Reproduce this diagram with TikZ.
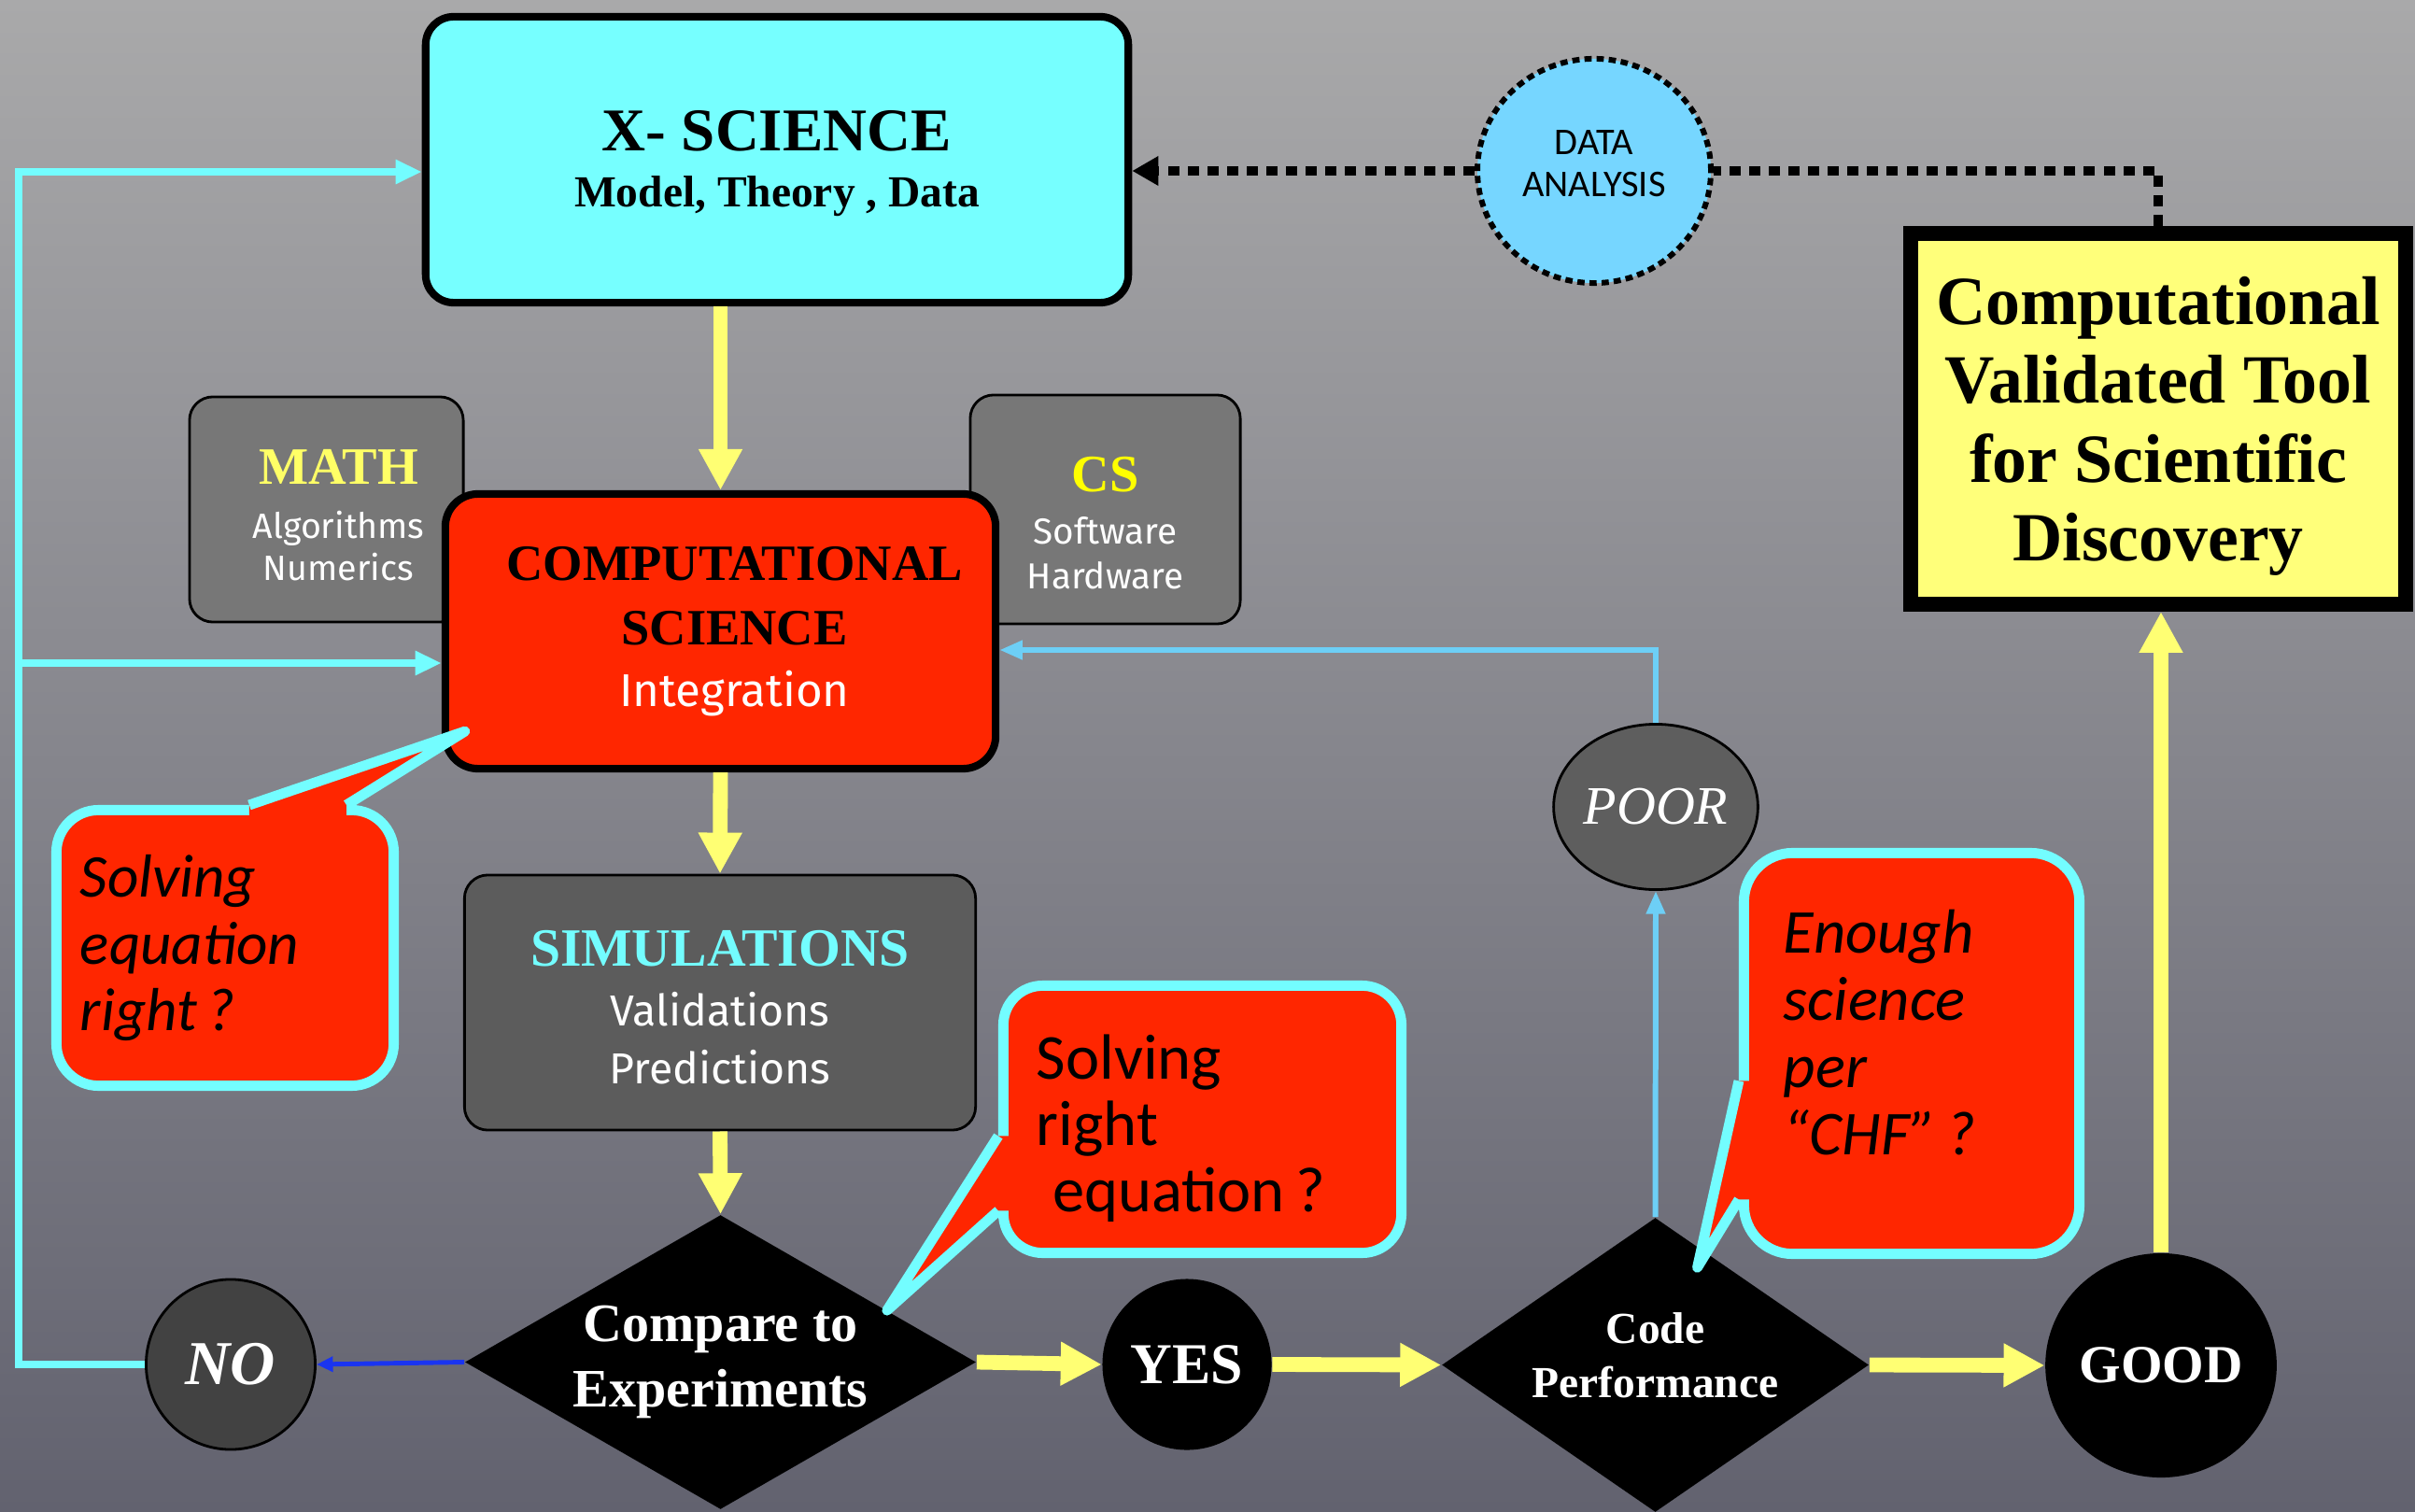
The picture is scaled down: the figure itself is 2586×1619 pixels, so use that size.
\documentclass[tikz,border=0pt]{standalone}
\usepackage{fontspec}
\setmainfont{Liberation Serif}
\newfontfamily\calloutfont{Carlito}
\newfontfamily\handfont{Fira Sans}
\usetikzlibrary{arrows.meta, positioning, shapes.geometric, calc}
\definecolor{bgTop}{HTML}{A9A9AA}
\definecolor{bgBot}{HTML}{62626F}
\definecolor{sciCyan}{HTML}{76FFFF}
\definecolor{compRed}{HTML}{FF2600}
\definecolor{boxGray}{HTML}{777777}
\definecolor{simGray}{HTML}{5C5C5C}
\definecolor{noGray}{HTML}{424242}
\definecolor{poorGray}{HTML}{5E5E5E}
\definecolor{arrowYellow}{HTML}{FFFF73}
\definecolor{mathYellow}{HTML}{FFFF66}
\definecolor{csYellow}{HTML}{FFFF00}
\definecolor{lineCyan}{HTML}{73FDFF}
\definecolor{lineBlue}{HTML}{6DCFF6}
\definecolor{daBlue}{HTML}{76D6FF}
\definecolor{noBlue}{HTML}{1A34F0}
\definecolor{toolYellow}{HTML}{FFFF7A}
\newcommand{\fsz}[2]{\fontsize{#1}{#2}\selectfont}
\newcommand{\topgap}[1]{\rule{0pt}{#1}}
\newcommand{\botgap}[1]{\rule[-#1]{0pt}{#1}}
\tikzset{
  arrowY/.style={-{Triangle[length=12.5pt, width=12.5pt]}, arrowYellow, line width=4.5pt},
  arrowC/.style={-{Triangle[length=8pt, width=7pt]}, lineCyan, line width=2.3pt},
  arrowL/.style={-{Triangle[length=7pt, width=5.5pt]}, lineBlue, line width=1.7pt},
  arrowB/.style={-{Triangle[length=5pt, width=4.5pt]}, noBlue, line width=1.4pt},
  arrowD/.style={-{Triangle[length=8pt, width=8.5pt]}, black, line width=2.8pt,
                 dash pattern=on 3.4pt off 2.6pt},
  dotline/.style={black, line width=2.8pt, dash pattern=on 3.4pt off 2.6pt},
  boxSci/.style={rectangle, rounded corners=0.3cm, draw=black, line width=2.3pt,
                 fill=sciCyan, align=center, inner sep=0pt},
  boxComp/.style={rectangle, rounded corners=0.35cm, draw=black, line width=2.3pt,
                  fill=compRed, align=center, inner sep=0pt},
  boxG/.style={rectangle, rounded corners=0.25cm, draw=black, line width=0.8pt,
               fill=boxGray, text=white, align=center, inner sep=0pt},
  boxTool/.style={rectangle, draw=black, line width=4.5pt, fill=toolYellow,
                  align=center, inner sep=0pt},
  decision/.style={diamond, fill=black, inner sep=0pt},
  difftext/.style={text=white, align=center, font=\bfseries},
  oval/.style={ellipse, inner sep=0pt, text=white},
  callout/.style={rectangle, draw=lineCyan, line width=3.1pt, fill=compRed,
                  align=left, inner sep=0pt},
  pointer/.style={draw=lineCyan, line width=3.1pt, line join=round},
}
\begin{document}
\begin{tikzpicture}[x=0.01cm, y=-0.01cm]
  \useasboundingbox (0,0) rectangle (2586,1619);
  \shade[top color=bgTop, bottom color=bgBot] (0,0) rectangle (2586,1619);

  % top: science, math, cs, computational science
  \node[boxSci, minimum width=7.52cm, minimum height=3.06cm,
        font=\bfseries\fsz{13.5}{16.9}] (xsci) at (832,171)
    {{\fsz{18.5}{18.5}\topgap{14.5pt}X- SCIENCE}\\Model, Theory , Data};
  \node[boxG, minimum width=2.93cm, minimum height=2.41cm,
        font=\handfont\fsz{10.7}{13}] (math) at (349.5,545.5)
    {\hspace*{0.26cm}\textcolor{mathYellow}{\rmfamily\bfseries\fsz{16}{16}\topgap{14pt}MATH}\\[3.5pt]
     \hspace*{0.26cm}Algorithms\\\hspace*{0.26cm}Numerics};
  \node[boxG, minimum width=2.89cm, minimum height=2.45cm,
        font=\handfont\fsz{11}{13.6}] (cs) at (1183.5,545.5)
    {\textcolor{csYellow}{\rmfamily\bfseries\fsz{16}{16}\topgap{19pt}CS}\\[2.3pt]Software\\Hardware};
  \node[boxComp, minimum width=5.89cm, minimum height=2.94cm,
        font=\bfseries\fsz{15.5}{19.6}] (comp) at (771.5,676)
    {\hspace*{0.3cm}COMPUTATIONAL\\\hspace*{0.3cm}SCIENCE\\[-0.8pt]
     \hspace*{0.3cm}\textcolor{white}{\handfont\mdseries\fsz{14}{14}Integration}};
  \node[boxG, fill=simGray, minimum width=5.47cm, minimum height=2.73cm,
        font=\handfont\fsz{13.2}{17.4}] (sim) at (771,1073.5)
    {\textcolor{lineCyan}{\rmfamily\bfseries\fsz{16.4}{16.4}\topgap{13.6pt}SIMULATIONS}\\[1pt]Validations\\Predictions};

  % data analysis and the validated tool
  \node[ellipse, fill=daBlue, draw=black, line width=1.7pt, dash pattern=on 2.2pt off 1.5pt,
        minimum width=2.4cm, minimum height=2.4cm, align=center,
        font=\calloutfont\fsz{11.5}{12.7}] (da) at (1707,183) {DATA\\ANALYSIS\botgap{4.6pt}};
  \node[boxTool, minimum width=5.30cm, minimum height=3.97cm,
        font=\bfseries\fsz{21}{24}] (tool) at (2311,448.5)
    {\topgap{19pt}Computational\\Validated Tool\\for Scientific\\Discovery};

  % bottom row
  \node[decision, minimum width=5.47cm, minimum height=3.15cm,
        label={[difftext, font=\bfseries\fsz{16.5}{19.7}]center:{Compare to\\Experiments}}]
    (cmp) at (771.5,1458.5) {};
  \node[decision, minimum width=4.57cm, minimum height=3.15cm,
        label={[difftext, font=\bfseries\fsz{13.5}{16.4}, yshift=3pt]center:{Code\\Performance}}]
    (code) at (1772.5,1461.5) {};
  \node[oval, fill=noGray, draw=black, line width=0.8pt, minimum width=1.81cm,
        minimum height=1.82cm, font=\bfseries\itshape\fsz{19}{19}] (no) at (247,1461) {NO};
  \node[oval, fill=black, minimum width=1.81cm, minimum height=1.83cm,
        font=\bfseries\fsz{17.6}{17.6}] (yes) at (1271,1461) {YES};
  \node[oval, fill=black, minimum width=2.42cm, minimum height=2.40cm,
        font=\bfseries\fsz{16.3}{16.3}] (good) at (2314,1462) {GOOD};
  \node[oval, fill=poorGray, draw=black, line width=0.8pt, minimum width=2.14cm,
        minimum height=1.77cm, font=\itshape\fsz{16.5}{16.5}] (poor) at (1773,864) {POOR};

  % connectors
  \draw[arrowY] (comp.north |- xsci.south) -- (comp.north);
  \draw[arrowY] (comp.south) -- (sim.north);
  \draw[arrowY] (sim.south) -- (cmp.north);
  \draw[arrowY] (cmp.east) -- (yes.west);
  \draw[arrowY] (yes.east) -- (code.west);
  \draw[arrowY] (code.east) -- (good.west);
  \draw[arrowY] (good.north) -- (good.north |- tool.south);
  \draw[arrowB] (cmp.west) -- (no.east);
  \draw[arrowL] (code.north) -- (poor.south);
  \draw[arrowL] (poor.north) |- ($(comp.east)+(0,20)$);
  \coordinate (loopx) at (20,0);
  \coordinate (xin) at ($(xsci.west)+(0,13)$);
  \coordinate (cin) at ($(comp.west)+(0,34)$);
  \draw[arrowC] (no.west) -- (no.west -| loopx) |- (xin);
  \draw[arrowC] (cin -| loopx) -- (cin);
  \draw[dotline] (tool.north) |- (da.east);
  \draw[arrowD] (da.west) -- (da.west -| xsci.east);

  % callouts
  \node[callout, rounded corners=0.45cm, minimum width=3.61cm, minimum height=2.95cm,
        text width=3.10cm, font=\calloutfont\itshape\fsz{18.5}{20.4}] (cL) at (241,1015)
    {Solving\\equation\\right\,?};
  \coordinate (tipL) at ($(comp.south west)+(25,-44)$);
  \fill[compRed] ($(cL.north west)+(212,12)$) -- ($(cL.north west)+(212,0)$) -- (tipL)
    -- ($(cL.north west)+(316,0)$) -- ($(cL.north west)+(316,12)$) -- cycle;
  \draw[pointer] ($(cL.north west)+(212,0)$) -- (tipL) -- ($(cL.north west)+(316,0)$);

  \node[callout, rounded corners=0.42cm, minimum width=4.26cm, minimum height=2.86cm,
        text width=3.55cm, font=\calloutfont\fsz{19.5}{20.2}] (cM) at (1287.5,1198.5)
    {\topgap{19.2pt}Solving\\right\\\hspace*{0.25em}equation\,?};
  \coordinate (tipM) at ($(cmp.north)!0.65!(cmp.east)$);
  \fill[compRed] ($(cM.north west)+(12,166.5)$) -- ($(cM.north west)+(0,166.5)$) -- (tipM)
    -- ($(cM.north west)+(0,246.5)$) -- ($(cM.north west)+(12,246.5)$) -- cycle;
  \draw[pointer] ($(cM.north west)+(0,166.5)$) -- (tipM) -- ($(cM.north west)+(0,246.5)$);

  \node[callout, rounded corners=0.52cm, minimum width=3.59cm, minimum height=4.29cm,
        text width=2.74cm, font=\calloutfont\itshape\fsz{19}{20.5}] (cR) at (2047,1128)
    {Enough\\science\\per\\“CHF”\,?\botgap{13pt}};
  \coordinate (tipR) at ($(code.north)+(45,54)$);
  \fill[compRed] ($(cR.north west)+(12,249.5)$) -- ($(cR.north west)+(0,249.5)$) -- (tipR)
    -- ($(cR.north west)+(0,376.5)$) -- ($(cR.north west)+(12,376.5)$) -- cycle;
  \draw[pointer] ($(cR.north west)+(0,249.5)$) -- (tipR) -- ($(cR.north west)+(0,376.5)$);
\end{tikzpicture}
\end{document}
